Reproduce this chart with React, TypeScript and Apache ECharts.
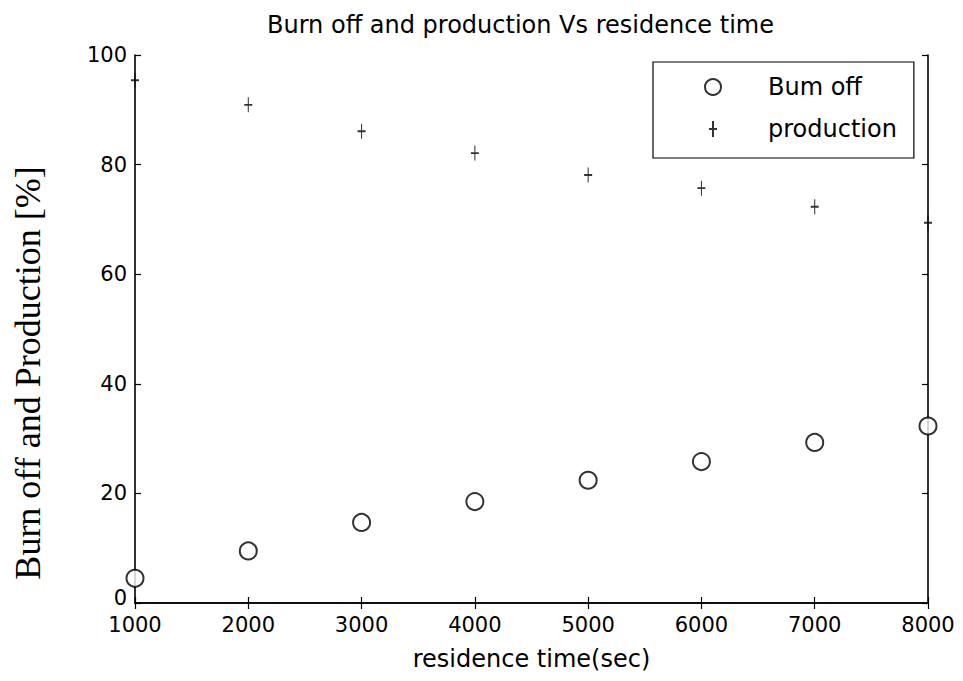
import React, { useEffect, useRef } from "react";
import * as echarts from "echarts";

const xValues = [1000, 2000, 3000, 4000, 5000, 6000, 7000, 8000];
const burnOff = [4.5, 9.5, 14.7, 18.5, 22.4, 25.8, 29.3, 32.3];
const production = [95.4, 90.9, 86.1, 82.1, 78.1, 75.7, 72.3, 69.4];
const seriesNames = ["Bum off", "production"];
const titleText = "Burn off and production Vs residence time";
const xAxisTitle = "residence time(sec)";
const yAxisTitle = "Burn off and Production [%]";

const PLUS = "path://M5 0L5 20M0 10L10 10";

export default function App() {
  const ref = useRef<HTMLDivElement>(null);
  useEffect(() => {
    if (!ref.current) return;
    const chart = echarts.init(ref.current, undefined, { renderer: "svg" });
    const sans = "DejaVu Sans";
    const axisCommon = {
      type: "value",
      axisLine: { show: true, lineStyle: { color: "#000", width: 1.6 } },
      axisTick: { show: true, inside: true, length: 6, lineStyle: { color: "#000", width: 1.2 } },
      splitLine: { show: false },
    };
    chart.setOption({
      animation: false,
      backgroundColor: "#fff",
      title: {
        text: titleText,
        left: 262,
        top: 8,
        textStyle: { fontFamily: sans, fontSize: 24, fontWeight: "normal", color: "#000" },
      },
      legend: {
        orient: "vertical",
        left: 653,
        top: 62,
        padding: [13, 17, 17, 51],
        itemWidth: 100,
        itemHeight: 16,
        itemGap: 18,
        backgroundColor: "#fff",
        borderColor: "#000",
        borderWidth: 1.2,
        borderRadius: 0,
        textStyle: { fontFamily: sans, fontSize: 24, color: "#000" },
        data: seriesNames,
      },
      grid: { left: 135, right: 35, top: 55, bottom: 78, containLabel: false },
      xAxis: [
        {
          ...axisCommon,
          position: "bottom",
          min: 1000,
          max: 8000,
          interval: 1000,
          axisLabel: {
            color: "#000",
            fontFamily: sans,
            fontSize: 21,
            lineHeight: 17,
            margin: 13,
            formatter: (v: number) => String(v),
          },
          name: xAxisTitle,
          nameLocation: "middle",
          nameGap: 44,
          nameTextStyle: { fontFamily: sans, fontSize: 24, color: "#000" },
        },
        {
          ...axisCommon,
          position: "top",
          min: 1000,
          max: 8000,
          interval: 1000,
          axisLabel: { show: false },
        },
      ],
      yAxis: [
        {
          ...axisCommon,
          position: "left",
          min: 0,
          max: 100,
          interval: 20,
          axisLabel: {
            color: "#000",
            fontFamily: sans,
            fontSize: 21,
            lineHeight: 16,
            margin: 8,
            formatter: (v: number) => (v === 0 ? "{z|0}" : String(v)),
            rich: {
              z: {
                color: "#000",
                fontFamily: sans,
                fontSize: 21,
                lineHeight: 16,
                padding: [0, 0, 10, 0],
              },
            },
          },
        },
        {
          ...axisCommon,
          position: "right",
          min: 0,
          max: 100,
          interval: 20,
          axisLabel: { show: false },
        },
      ],
      graphic: [
        {
          type: "text",
          x: 28,
          y: 373,
          rotation: Math.PI / 2,
          style: {
            text: yAxisTitle,
            fontFamily: "Liberation Serif",
            fontSize: 36,
            fill: "#000",
            textAlign: "center",
            textVerticalAlign: "middle",
          },
        },
      ],
      series: [
        {
          name: seriesNames[0],
          type: "scatter",
          clip: false,
          symbol: "emptyCircle",
          symbolSize: 17,
          itemStyle: { color: "#000", borderColor: "#000", borderWidth: 1.2 },
          data: xValues.map((x, i) => [x, burnOff[i]]),
        },
        {
          name: seriesNames[1],
          type: "scatter",
          clip: false,
          symbol: PLUS,
          symbolSize: [8, 15],
          symbolKeepAspect: false,
          itemStyle: { color: "#000", borderColor: "#000", borderWidth: 1.4 },
          data: xValues.map((x, i) => [x, production[i]]),
        },
      ],
    });
    return () => chart.dispose();
  }, []);
  return (
    <div
      ref={ref}
      style={{ position: "fixed", left: 0, top: 0, width: 963, height: 681, background: "#fff" }}
    />
  );
}
